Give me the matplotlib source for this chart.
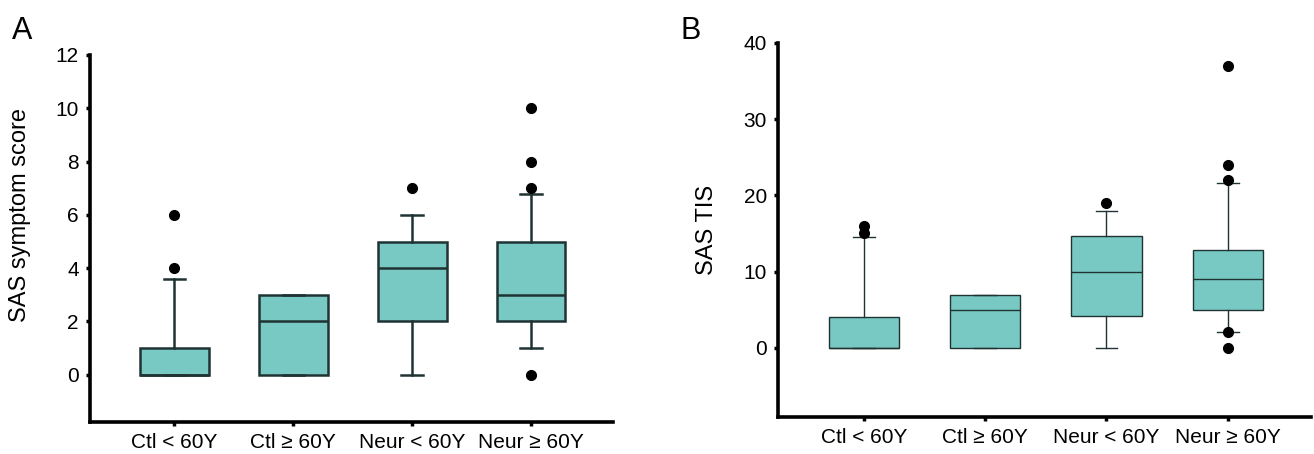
import matplotlib
matplotlib.use('Agg')
import matplotlib.pyplot as plt

plt.rcParams['font.family'] = ['Liberation Sans', 'DejaVu Sans']

groups = ['Ctl < 60Y', 'Ctl ≥ 60Y', 'Neur < 60Y', 'Neur ≥ 60Y']

# Panel A: SAS symptom score
a_q1 = [0, 0, 2, 2]
a_med = [0, 2, 4, 3]
a_q3 = [1, 3, 5, 5]
a_wlo = [0, 0, 0, 1]
a_whi = [3.6, 3, 6, 6.8]
a_fliers = [[4, 6], [], [7], [0, 7, 8, 10]]

# Panel B: SAS TIS
b_q1 = [0, 0, 4.2, 5.0]
b_med = [0, 5, 10, 9]
b_q3 = [4, 7, 14.7, 12.9]
b_wlo = [0, 0, 0, 2.1]
b_whi = [14.6, 7, 18, 21.6]
b_fliers = [[15.1, 16], [], [19], [0, 2.1, 22, 24, 37]]

BOX = '#78c9c3'
EDGE = '#1f3333'


def make_stats(q1, med, q3, wlo, whi, fl):
    return [dict(q1=q1[i], med=med[i], q3=q3[i], whislo=wlo[i], whishi=whi[i],
                 fliers=fl[i], label=groups[i]) for i in range(len(groups))]


def draw(ax, stats, lw, ylim, yticks, ylabel, labpad):
    ax.bxp(stats, positions=[1, 2, 3, 4], widths=0.58, patch_artist=True,
           showcaps=True,
           boxprops=dict(facecolor=BOX, edgecolor=EDGE, linewidth=lw),
           medianprops=dict(color=EDGE, linewidth=lw),
           whiskerprops=dict(color=EDGE, linewidth=lw),
           capprops=dict(color=EDGE, linewidth=lw),
           capwidths=0.18,
           flierprops=dict(marker='o', markerfacecolor='black',
                           markeredgecolor='black', markersize=7))
    ax.set_xlim(0.29, 4.69)
    ax.set_ylim(*ylim)
    ax.set_yticks(yticks)
    ax.set_xticks([1, 2, 3, 4])
    ax.set_xticklabels(groups, fontsize=15)
    ax.tick_params(axis='y', labelsize=15, length=3, width=2.5, pad=5)
    ax.tick_params(axis='x', length=3, width=2.5, pad=5)
    for s in ['top', 'right']:
        ax.spines[s].set_visible(False)
    for s in ['left', 'bottom']:
        ax.spines[s].set_linewidth(2.6)
        ax.spines[s].set_color('black')
    ax.set_ylabel(ylabel, fontsize=17, labelpad=labpad)


fig = plt.figure(figsize=(13.14, 4.54), dpi=100)
ax1 = fig.add_axes([0.0685, 0.0705, 0.398, 0.8085])
ax2 = fig.add_axes([0.592, 0.0815, 0.406, 0.824])

stats_a = make_stats(a_q1, a_med, a_q3, a_wlo, a_whi, a_fliers)
stats_b = make_stats(b_q1, b_med, b_q3, b_wlo, b_whi, b_fliers)

draw(ax1, stats_a, 1.8, (-1.77, 12), range(0, 13, 2), 'SAS symptom score', 14)
draw(ax2, stats_b, 1.0, (-9.05, 40), range(0, 41, 10), 'SAS TIS', 18)
ax1.yaxis.set_label_coords(-0.112, 0.565)

fig.text(0.009, 0.915, 'A', fontsize=22)
fig.text(0.518, 0.915, 'B', fontsize=22)

fig.savefig('out.png', dpi=100)
